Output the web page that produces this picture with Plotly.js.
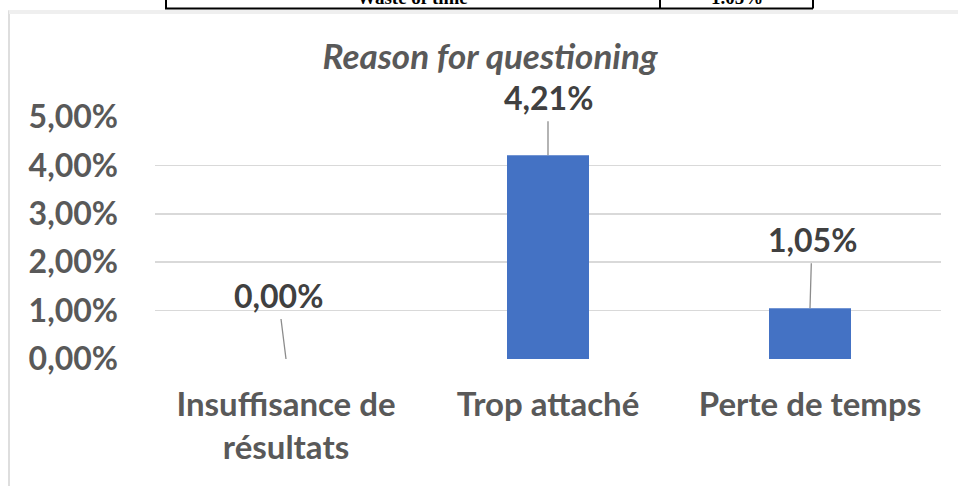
<!DOCTYPE html>
<html>
<head>
<meta charset="utf-8">
<script src="https://cdn.plot.ly/plotly-3.0.1.min.js"></script>
<style>
  html, body { margin: 0; padding: 0; background: #ffffff; }
  #chart { width: 958px; height: 486px; }
</style>
</head>
<body>
<div id="chart"></div>
<script>
// Reasons given for questioning, share of respondents (%)
const categories = ['Insuffisance de<br>résultats', 'Trop attaché', 'Perte de temps'];
const shares = [0.00, 4.21, 1.05];
const yTicks = [0, 1, 2, 3, 4, 5];

// Row of the table printed just above the chart
const tableRow = ['Waste of time', '1.05%'];

// Leader-line offsets (pixels) from each bar top to its value label
const labelOffsets = [[-8, -64], [0, -58], [2, -69]];

const W = 958, H = 486;
const M = { l: 155, r: 17, t: 117, b: 127 };
const plotW = W - M.l - M.r, plotH = H - M.t - M.b;
const px = x => (x - M.l) / plotW;
const py = y => (H - M.b - y) / plotH;

const fmt = v => v.toFixed(2).replace('.', ',') + '%';

const textFont = 'Lato, Carlito, Calibri, "Open Sans", sans-serif';

const trace = {
  type: 'bar',
  x: categories,
  y: shares,
  marker: { color: '#4472C4' },
  hoverinfo: 'skip'
};

const labelAnnotations = categories.map((c, i) => ({
  x: c, y: shares[i], xref: 'x', yref: 'y',
  text: fmt(shares[i]),
  showarrow: true, arrowhead: 0, arrowwidth: 1.3, arrowcolor: '#8c8c8c',
  standoff: 0, borderpad: 4,
  ax: labelOffsets[i][0], ay: labelOffsets[i][1],
  font: { family: textFont, size: 32, color: '#404040', weight: 700 }
}));

const tableAnnotations = [
  { text: tableRow[0], x: px(412), xanchor: 'center' },
  { text: tableRow[1], x: px(737), xanchor: 'center' }
].map(a => Object.assign(a, {
  xref: 'paper', yref: 'paper', y: py(-3), yanchor: 'middle',
  showarrow: false,
  font: { family: '"Liberation Serif", "Times New Roman", serif', size: 19, color: '#000000', weight: 700 }
}));

const shapes = [
  // chart frame
  { type: 'rect', xref: 'paper', yref: 'paper', layer: 'below',
    x0: px(9), x1: px(975), y0: py(500), y1: py(11),
    line: { color: '#d4d4d4', width: 1.5 }, fillcolor: 'rgba(0,0,0,0)' },
  // soft edge along the frame top
  { type: 'rect', xref: 'paper', yref: 'paper', layer: 'below',
    x0: px(9), x1: px(975), y0: py(14), y1: py(10),
    line: { width: 0 }, fillcolor: '#efefef' },
  // table bottom edge and cell borders
  { type: 'line', xref: 'paper', yref: 'paper', x0: px(165), x1: px(813), y0: py(8.5), y1: py(8.5),
    line: { color: '#000000', width: 2 } },
  { type: 'line', xref: 'paper', yref: 'paper', x0: px(166), x1: px(166), y0: py(-5), y1: py(8.5),
    line: { color: '#000000', width: 2 } },
  { type: 'line', xref: 'paper', yref: 'paper', x0: px(660), x1: px(660), y0: py(-5), y1: py(8.5),
    line: { color: '#000000', width: 2 } },
  { type: 'line', xref: 'paper', yref: 'paper', x0: px(813), x1: px(813), y0: py(-5), y1: py(8.5),
    line: { color: '#000000', width: 2 } }
];

const layout = {
  width: W, height: H,
  margin: M,
  paper_bgcolor: '#ffffff',
  plot_bgcolor: '#ffffff',
  showlegend: false,
  bargap: 0.687,
  title: {
    text: '<i>Reason for questioning</i>',
    x: 490 / W, xref: 'container', xanchor: 'center',
    y: 1 - 57 / H, yanchor: 'middle',
    font: { family: textFont, size: 35, color: '#595959', weight: 700 }
  },
  xaxis: {
    type: 'category',
    showgrid: false, zeroline: false, showline: false,
    ticks: '', ticklabelstandoff: 23,
    tickfont: { family: textFont, size: 33, color: '#595959', weight: 700 },
    fixedrange: true
  },
  yaxis: {
    range: [0, 5],
    tickmode: 'array',
    tickvals: yTicks,
    ticktext: yTicks.map(fmt),
    showgrid: true, gridcolor: '#d9d9d9', gridwidth: 1.5,
    zeroline: false, showline: false, ticks: '',
    ticklabelstandoff: 36,
    tickfont: { family: textFont, size: 32, color: '#595959', weight: 700 },
    fixedrange: true
  },
  annotations: labelAnnotations.concat(tableAnnotations),
  shapes: shapes
};

Plotly.newPlot('chart', [trace], layout, { displayModeBar: false, staticPlot: true });
</script>
</body>
</html>
